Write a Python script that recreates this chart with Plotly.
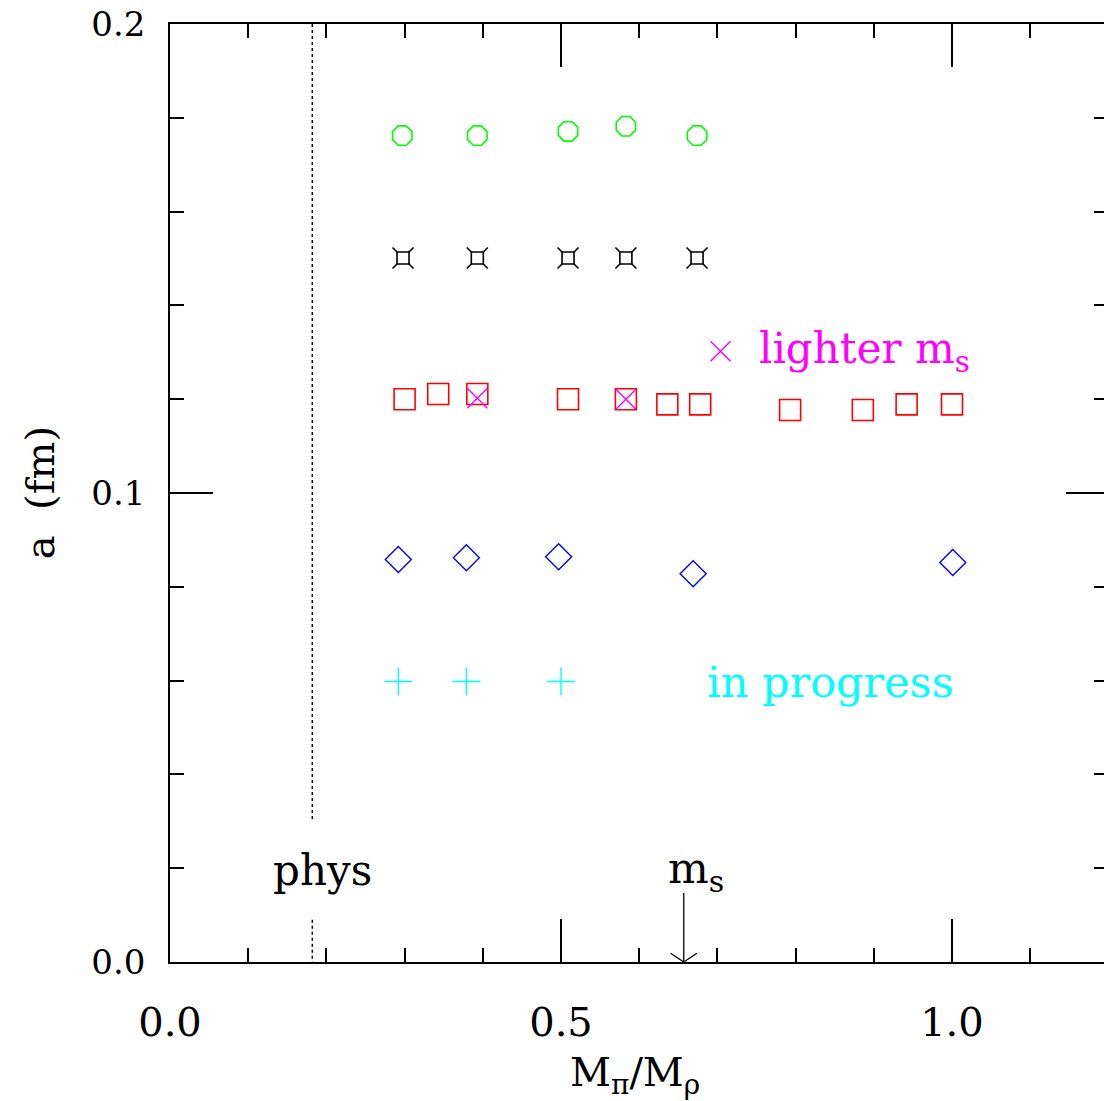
import plotly.graph_objects as go

# ---- data ----
green_x = [0.297, 0.393, 0.509, 0.583, 0.674]
green_y = [0.1762, 0.1762, 0.1771, 0.1782, 0.1762]

black_x = [0.298, 0.393, 0.509, 0.583, 0.674]
black_y = [0.1501, 0.1501, 0.1501, 0.1501, 0.1501]

red_x = [0.300, 0.343, 0.393, 0.509, 0.583, 0.636, 0.678, 0.793, 0.886, 0.942, 1.000]
red_y = [0.1200, 0.1211, 0.1211, 0.1200, 0.1200, 0.1189, 0.1189, 0.1177, 0.1177, 0.1189, 0.1189]

magenta_x = [0.393, 0.583]
magenta_y = [0.1202, 0.1200]

blue_x = [0.292, 0.379, 0.497, 0.669, 1.001]
blue_y = [0.0858, 0.0862, 0.0864, 0.0828, 0.0852]

cyan_x = [0.292, 0.379, 0.500]
cyan_y = [0.0598, 0.0598, 0.0598]

phys_x = 0.182
phys_line_y = [0.2, 0.0299, None, 0.0090, 0.0]
ms_x = 0.657
ms_arrow_y = [0.0147, 0.0]

legend_key_x = [0.704]
legend_key_y = [0.1302]

x_range = [0, 1.1944]
y_range = [0, 0.2]
x_ticks = [0.0, 0.5, 1.0]
x_ticktext = ["0.0", "0.5", "1.0"]
y_ticks = [0.0, 0.1, 0.2]
y_ticktext = ["0.0", "0.1", "0.2"]

FONT = "DejaVu Serif"

fig = go.Figure()

# physical point dotted line
fig.add_trace(go.Scatter(x=[phys_x] * len(phys_line_y), y=phys_line_y, mode="lines",
                         line=dict(color="black", width=1.5, dash="dot"),
                         connectgaps=False, yaxis="y2", hoverinfo="skip"))

# m_s arrow
fig.add_trace(go.Scatter(x=[ms_x, ms_x], y=ms_arrow_y, mode="lines",
                         line=dict(color="black", width=1.3), hoverinfo="skip"))
fig.add_trace(go.Scatter(x=[ms_x], y=[ms_arrow_y[-1]], mode="markers",
                         cliponaxis=True,
                         marker=dict(symbol="y-down-open", size=22, color="black",
                                     line=dict(color="black", width=1.3)),
                         hoverinfo="skip"))

fig.add_trace(go.Scatter(x=green_x, y=green_y, mode="markers",
                         marker=dict(symbol="octagon-open", size=21, color="#00ff00",
                                     line=dict(color="#00ff00", width=1.6))))

fig.add_trace(go.Scatter(x=black_x, y=black_y, mode="markers",
                         marker=dict(symbol="x-thin-open", size=21, color="black",
                                     line=dict(color="black", width=1.6))))
fig.add_trace(go.Scatter(x=black_x, y=black_y, mode="markers",
                         marker=dict(symbol="square", size=12, color="white",
                                     line=dict(color="black", width=1.6))))

fig.add_trace(go.Scatter(x=red_x, y=red_y, mode="markers",
                         marker=dict(symbol="square-open", size=21, color="red",
                                     line=dict(color="red", width=1.6))))

fig.add_trace(go.Scatter(x=magenta_x + legend_key_x, y=magenta_y + legend_key_y, mode="markers",
                         marker=dict(symbol="x-thin-open", size=20, color="magenta",
                                     line=dict(color="magenta", width=1.4))))

fig.add_trace(go.Scatter(x=blue_x, y=blue_y, mode="markers",
                         marker=dict(symbol="diamond-open", size=20, color="blue",
                                     line=dict(color="blue", width=1.4))))

fig.add_trace(go.Scatter(x=cyan_x, y=cyan_y, mode="markers",
                         marker=dict(symbol="cross-thin-open", size=20, color="cyan",
                                     line=dict(color="cyan", width=1.4))))

annotations = [
    dict(x=0.751, y=0.1302, xref="x", yref="y", text="lighter m<sub>s</sub>",
         showarrow=False, xanchor="left", yanchor="middle",
         font=dict(family=FONT, size=42, color="magenta")),
    dict(x=0.684, y=0.0598, xref="x", yref="y", text="in progress",
         showarrow=False, xanchor="left", yanchor="middle",
         font=dict(family=FONT, size=43, color="cyan")),
    dict(x=0.195, y=0.0195, xref="x", yref="y", text="phys",
         showarrow=False, xanchor="center", yanchor="middle",
         font=dict(family=FONT, size=42, color="black")),
    dict(x=ms_x + 0.016, y=0.0195, xref="x", yref="y", text="m<sub>s</sub>",
         showarrow=False, xanchor="center", yanchor="middle",
         font=dict(family=FONT, size=43, color="black")),
    dict(x=0.498, y=-0.12, xref="paper", yref="paper",
         text="M<sub>π</sub>/M<sub>ρ</sub>", showarrow=False,
         xanchor="center", yanchor="middle",
         font=dict(family=FONT, size=40, color="black")),
    dict(x=-0.139, y=0.5, xref="paper", yref="paper", text="a  (fm)",
         showarrow=False, textangle=-90, xanchor="center", yanchor="middle",
         font=dict(family=FONT, size=40, color="black")),
]

fig.update_layout(
    width=1104, height=1101,
    margin=dict(l=170, r=0, t=24, b=139),
    paper_bgcolor="white", plot_bgcolor="white",
    showlegend=False,
    annotations=annotations,
    xaxis=dict(range=x_range, showgrid=False, zeroline=False,
               showline=True, linecolor="black", linewidth=1.5, mirror="ticks",
               ticks="inside", tickvals=x_ticks, ticktext=x_ticktext,
               ticklen=43, tickwidth=1.5, tickcolor="black",
               minor=dict(dtick=0.1, tick0=0, ticks="inside", ticklen=14,
                          tickwidth=1.5, tickcolor="black", showgrid=False),
               tickfont=dict(family=FONT, size=40, color="black"),
               ticklabelstandoff=24),
    yaxis=dict(range=y_range, showgrid=False, zeroline=False,
               showline=True, linecolor="black", linewidth=1.5, mirror=False,
               ticks="inside", tickvals=y_ticks, ticktext=y_ticktext,
               ticklen=43, tickwidth=1.5, tickcolor="black",
               minor=dict(dtick=0.02, tick0=0, ticks="inside", ticklen=14,
                          tickwidth=1.5, tickcolor="black", showgrid=False),
               tickfont=dict(family=FONT, size=34, color="black"),
               ticklabelstandoff=16),
    yaxis2=dict(range=y_range, overlaying="y", side="right", showgrid=False,
                zeroline=False, showline=False, showticklabels=False,
                ticks="inside", tickvals=y_ticks, ticklen=38, tickwidth=1.5,
                tickcolor="black",
                minor=dict(dtick=0.02, tick0=0, ticks="inside", ticklen=10,
                           tickwidth=1.5, tickcolor="black", showgrid=False)),
)

fig.write_html("out.html")
